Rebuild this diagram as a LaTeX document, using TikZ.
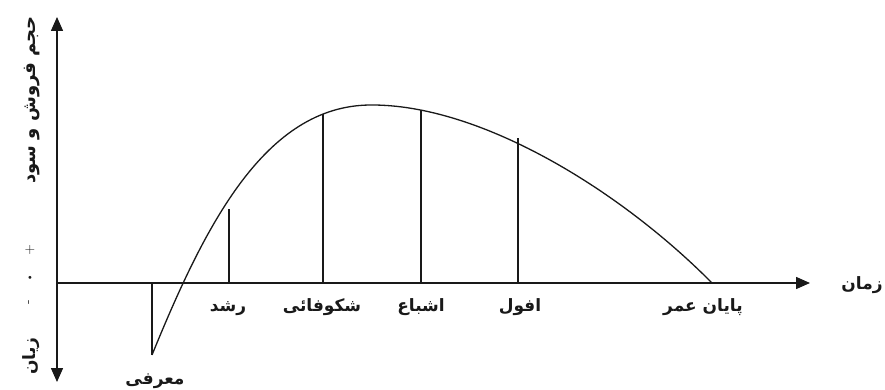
\documentclass[tikz,border=0pt]{standalone}
\usepackage{fontspec}
\usetikzlibrary{arrows.meta}
\newfontfamily\arabicfont[Script=Arabic]{DejaVu Sans}
\TeXXeTstate=1
\definecolor{ink}{RGB}{25,25,25}

\begin{document}
\begin{tikzpicture}[x=1pt,y=-1pt,
  every node/.style={font=\arabicfont\bfseries\fontsize{17}{19}\selectfont,inner sep=0pt,ink},
  axis/.style={ink,line width=1.5pt},
  stageline/.style={ink,line width=1.3pt}]
\useasboundingbox (0,0) rectangle (885,390);
% axes
\coordinate (o) at (57,283);
\coordinate (ytop) at (57,17);
\coordinate (ybot) at (57,382);
\coordinate (xend) at (810,283);
\draw[axis,{Triangle[length=14pt,width=12pt]}-{Triangle[length=14pt,width=12pt]}] (ybot) -- (ytop);
\draw[axis,-{Triangle[length=14pt,width=12pt]}] (o) -- (xend);
\node[rotate=90,font=\arabicfont\bfseries\fontsize{18}{20}\selectfont] (ylab) at (32,100) {\beginR حجم فروش و سود\endR};
\node[rotate=90] (loss) at (31,356) {\beginR زیان\endR};
\node[font=\fontsize{14}{16}\selectfont] (plus) at (30,250) {+};
\node[font=\fontsize{11}{13}\selectfont] (zero) at (30,278) {\textbullet};
\node[rotate=90,font=\fontsize{14}{16}\selectfont] (minus) at (30,302) {-};
\node[anchor=base] (time) at (862,289) {\beginR زمان\endR};
% curve
\draw[stageline] (152,355) .. controls (205,225) and (265,106) .. (370,105)
  .. controls (480,104) and (620,190) .. (712,283);
% stages
\coordinate (a1) at (152,283); \coordinate (c1) at (152,355);
\coordinate (a2) at (229,283); \coordinate (c2) at (229,209);
\coordinate (a3) at (323,283); \coordinate (c3) at (323,114);
\coordinate (a4) at (421,283); \coordinate (c4) at (421,110);
\coordinate (a5) at (518,283); \coordinate (c5) at (518,138);
\coordinate (a6) at (712,283);
\draw[stageline] (a1) -- (c1);
\draw[stageline] (a2) -- (c2);
\draw[stageline] (a3) -- (c3);
\draw[stageline] (a4) -- (c4);
\draw[stageline] (a5) -- (c5);
\node[anchor=base] (intro) at (155,384) {\beginR معرفی\endR};
\node[anchor=base] (growth) at (228,311) {\beginR رشد\endR};
\node[anchor=base] (bloom) at (322,311) {\beginR شکوفائی\endR};
\node[anchor=base] (sat) at (421,311) {\beginR اشباع\endR};
\node[anchor=base] (decline) at (520,311) {\beginR افول\endR};
\node[anchor=base] (end) at (703,311) {\beginR پایان عمر\endR};
\end{tikzpicture}
\end{document}
